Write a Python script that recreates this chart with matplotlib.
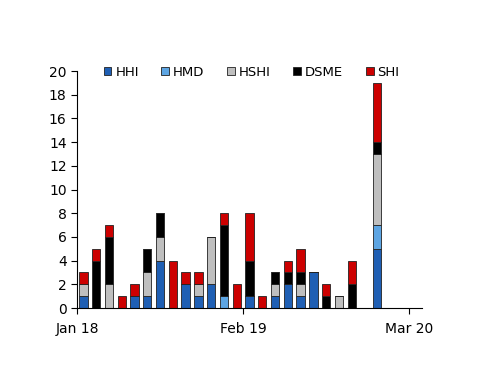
import matplotlib
matplotlib.use("Agg")
import matplotlib.pyplot as plt
from matplotlib.patches import Patch
import numpy as np

months = ["Jan 18","Feb 18","Mar 18","Apr 18","May 18","Jun 18","Jul 18","Aug 18","Sep 18",
          "Oct 18","Nov 18","Dec 18","Jan 19","Feb 19","Mar 19","Apr 19","May 19","Jun 19",
          "Jul 19","Aug 19","Sep 19","Oct 19","Nov 19","Dec 19","Jan 20","Feb 20","Mar 20"]
HHI  = [1,0,0,0,1,1,4,0,2,1,2,0,0,1,0,1,2,1,3,0,0,0,0,5,0,0,0]
HMD  = [0,0,0,0,0,0,0,0,0,0,0,1,0,0,0,0,0,0,0,0,0,0,0,2,0,0,0]
HSHI = [1,0,2,0,0,2,2,0,0,1,4,0,0,0,0,1,0,1,0,0,1,0,0,6,0,0,0]
DSME = [0,4,4,0,0,2,2,0,0,0,0,6,0,3,0,1,1,1,0,1,0,2,0,1,0,0,0]
SHI  = [1,1,1,1,1,0,0,4,1,1,0,1,2,4,1,0,1,2,0,1,0,2,0,5,0,0,0]
series = [("HHI", HHI, "#1F5FB4"), ("HMD", HMD, "#5DA5E3"), ("HSHI", HSHI, "#BFBFBF"),
          ("DSME", DSME, "#000000"), ("SHI", SHI, "#CC0000")]
tick_labels = ["Jan 18", "Feb 19", "Mar 20"]

fig = plt.figure(figsize=(5, 3.86), dpi=100)
ax = fig.add_axes([0.154, 0.202, 0.69, 0.614])
x = np.arange(len(months))
bottom = np.zeros(len(months))
for name, vals, col in series:
    v = np.array(vals, dtype=float)
    ax.bar(x, v, bottom=bottom, width=0.65, color=col, edgecolor="#222222", linewidth=0.6)
    bottom += v

ax.set_xlim(-0.5, len(months) - 0.5)
ax.set_ylim(0, 20)
ax.set_yticks(range(0, 21, 2))
tick_pos = [months.index(t) - 0.5 for t in tick_labels]
ax.set_xticks(tick_pos)
ax.set_xticklabels(tick_labels)
for s in ["top", "right"]:
    ax.spines[s].set_visible(False)
for s in ["left", "bottom"]:
    ax.spines[s].set_linewidth(0.8)
ax.tick_params(axis="both", direction="out", length=4, width=0.8, labelsize=10)
ax.tick_params(axis="x", pad=6)

handles = [Patch(facecolor=c, edgecolor="#222222", linewidth=0.6, label=n) for n, _, c in series]
fig.legend(handles=handles, loc="center", bbox_to_anchor=(0.503, 0.813), ncol=5, frameon=False,
           fontsize=9.5, handlelength=0.6, handleheight=0.6, handletextpad=0.3, columnspacing=1.7)

fig.savefig("out.png", dpi=100)
